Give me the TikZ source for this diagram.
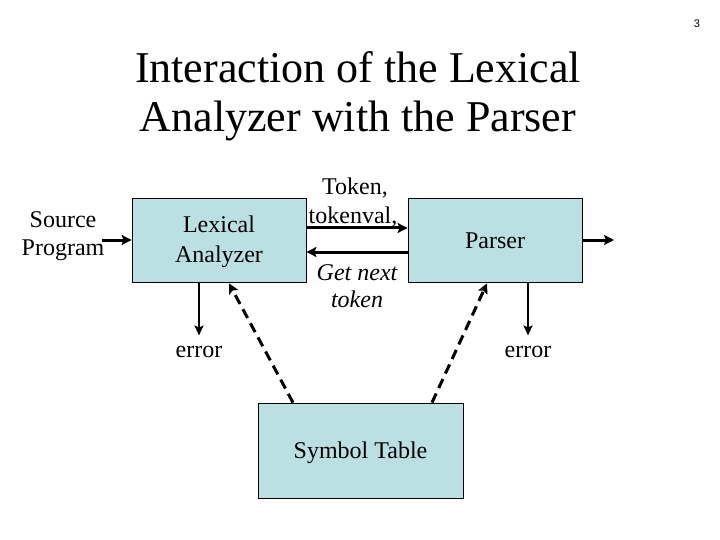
\documentclass[tikz,border=0pt]{standalone}
\usepackage{fontspec}
\setmainfont{Liberation Serif}
\newfontfamily\pagefont{Liberation Sans}
\usetikzlibrary{arrows.meta}
\definecolor{boxfill}{RGB}{187,224,227}
\tikzset{
  blk/.style={draw=black, line width=0.8pt, fill=boxfill, inner sep=0pt},
  txt/.style={font=\fontsize{24}{28}\selectfont, inner sep=0pt, align=center},
  thickarr/.style={line width=3pt, -{Stealth[length=10pt,width=10pt,inset=2pt]}},
  thinarr/.style={line width=2pt, -{Stealth[length=10pt,width=9pt,inset=2pt]}},
  dasharr/.style={line width=3pt, dash pattern=on 10pt off 6pt, -{Stealth[length=10pt,width=10pt,inset=2pt]}}
}
\begin{document}
\begin{tikzpicture}[x=1pt,y=-1pt]
\useasboundingbox (0,0) rectangle (720,540);
% page number
\node[font=\pagefont\fontsize{11}{13}\selectfont, inner sep=0pt, anchor=base] (pg) at (697,28) {3};
% title
\node[font=\fontsize{44}{49}\selectfont, inner sep=0pt, anchor=base] (t1) at (358,83) {Interaction of the Lexical};
\node[font=\fontsize{44}{49}\selectfont, inner sep=0pt, anchor=base] (t2) at (358,132) {Analyzer with the Parser};
% boxes
\node[blk, minimum width=174pt, minimum height=84pt] (lex) at (219,240) {};
\node[blk, minimum width=174pt, minimum height=84pt] (par) at (495,240) {};
\node[blk, minimum width=205pt, minimum height=95pt] (sym) at (360.5,450.5) {};
% box texts
\node[txt, anchor=base] (lex1) at (219,233) {Lexical};
\node[txt, anchor=base] (lex2) at (219,262) {Analyzer};
\node[txt, anchor=base] (part) at (495,248) {Parser};
\node[txt, anchor=base] (symt) at (360.5,458) {Symbol Table};
% source
\node[txt, anchor=base] (src1) at (63,227) {Source};
\node[txt, anchor=base] (src2) at (63,255) {Program};
\coordinate (srcend) at (102,240);
\coordinate (outend) at (614,240);
% labels between
\node[txt, anchor=base] (tok1) at (355,195) {Token,};
\node[txt, anchor=base] (tok2) at (353,223) {tokenval,};
\node[txt, anchor=base, font=\fontsize{24}{28}\selectfont\itshape] (gn1) at (357,280) {Get next};
\node[txt, anchor=base, font=\fontsize{24}{28}\selectfont\itshape] (gn2) at (357,307) {token};
% errors
\node[txt, anchor=base] (e1) at (199,357) {error};
\node[txt, anchor=base] (e2) at (528,357) {error};
% arrows
\draw[thickarr] (srcend) -- (lex.west);
\draw[thickarr] (par.east) -- (outend);
\draw[thickarr] ([yshift=12pt]lex.east) -- ([yshift=12pt]par.west);
\draw[thickarr] ([yshift=-12pt]par.west) -- ([yshift=-12pt]lex.east);
\draw[thinarr] (lex.south -| e1) -- ([yshift=10pt]e1.north);
\draw[thinarr] (par.south -| e2) -- ([yshift=10pt]e2.north);
\draw[dasharr] ([xshift=-67.5pt]sym.north) -- ([xshift=10pt,yshift=-1pt]lex.south);
\draw[dasharr] ([xshift=71.5pt]sym.north) -- ([xshift=-8pt,yshift=-1pt]par.south);
\end{tikzpicture}
\end{document}
